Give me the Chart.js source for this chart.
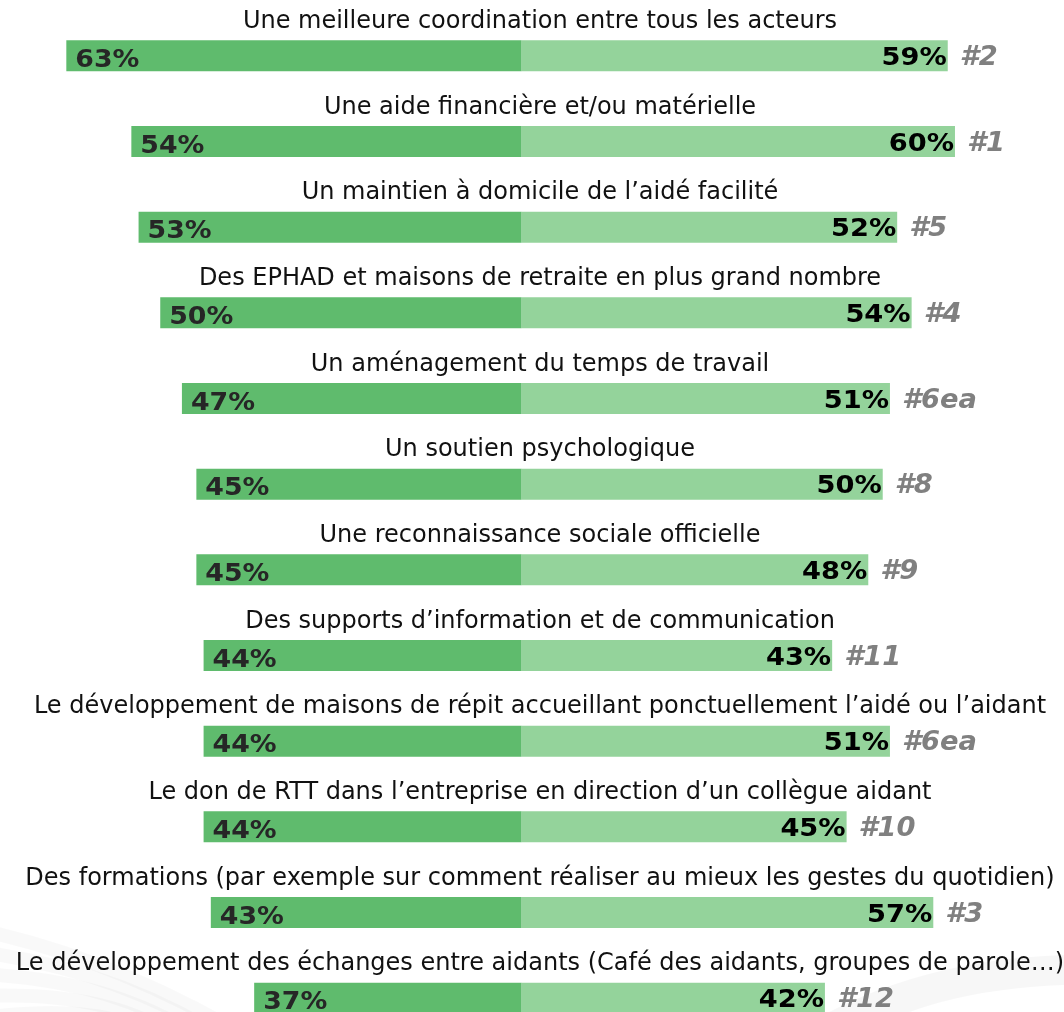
<!DOCTYPE html>
<html lang="fr">
<head>
<meta charset="utf-8">
<title>Aides attendues par les aidants</title>
<script src="https://cdn.jsdelivr.net/npm/chart.js@4/dist/chart.umd.min.js"></script>
<style>
  html, body { margin: 0; padding: 0; background: #ffffff; overflow: hidden; }
  #wrap { position: relative; width: 1064px; height: 1041px; }
</style>
</head>
<body>
<div id="wrap"><canvas id="chart"></canvas></div>
<script>
// Propositions, in display order
const categories = [
  "Une meilleure coordination entre tous les acteurs",
  "Une aide financière et/ou matérielle",
  "Un maintien à domicile de l\u2019aidé facilité",
  "Des EPHAD et maisons de retraite en plus grand nombre",
  "Un aménagement du temps de travail",
  "Un soutien psychologique",
  "Une reconnaissance sociale officielle",
  "Des supports d\u2019information et de communication",
  "Le développement de maisons de répit accueillant ponctuellement l\u2019aidé ou l\u2019aidant",
  "Le don de RTT dans l\u2019entreprise en direction d\u2019un collègue aidant",
  "Des formations (par exemple sur comment réaliser au mieux les gestes du quotidien)",
  "Le développement des échanges entre aidants (Café des aidants, groupes de parole\u2026)"
];

// Left (dark green) and right (light green) shares, in %
const leftValues  = [63, 54, 53, 50, 47, 45, 45, 44, 44, 44, 43, 37];
const rightValues = [59, 60, 52, 54, 51, 50, 48, 43, 51, 45, 57, 42];

// Rank of each proposition
const rankLabels = ["#2", "#1", "#5", "#4", "#6ea", "#8", "#9", "#11", "#6ea", "#10", "#3", "#12"];

const LEFT_COLOR = "#5fbb6d";
const RIGHT_COLOR = "#94d39b";

// Faint decorative swooshes in the lower corners of the slide
const slideBackground = {
  id: "slideBackground",
  beforeDraw(chart) {
    const ctx = chart.ctx;
    ctx.save();
    ctx.fillStyle = "#ffffff";
    ctx.fillRect(0, 0, chart.width, chart.height);
    // lower-left fan of soft strokes
    ctx.lineWidth = 14;
    for (let k = 0; k < 6; k++) {
      ctx.strokeStyle = "rgba(0,0,0,0.025)";
      ctx.beginPath();
      ctx.moveTo(-20, 930 + k * 22);
      ctx.quadraticCurveTo(120, 960 + k * 10, 260 - k * 25, 1045);
      ctx.stroke();
    }
    // lower-right soft band
    ctx.fillStyle = "rgba(0,0,0,0.03)";
    ctx.beginPath();
    ctx.moveTo(780, 1041);
    ctx.quadraticCurveTo(900, 960, 1064, 955);
    ctx.lineTo(1064, 985);
    ctx.quadraticCurveTo(930, 990, 850, 1041);
    ctx.closePath();
    ctx.fill();
    ctx.restore();
  }
};

// Bold labels are drawn slightly widened for a broader face
function wideText(ctx, text, x, y, align, sx) {
  ctx.save();
  ctx.translate(x, y);
  ctx.scale(sx, 1);
  ctx.textAlign = align;
  ctx.fillText(text, 0, 0);
  ctx.restore();
}

// Row titles, value labels and ranks drawn around each bar
const rowLabels = {
  id: "rowLabels",
  afterDatasetsDraw(chart) {
    const ctx = chart.ctx;
    const leftMeta = chart.getDatasetMeta(0);
    const rightMeta = chart.getDatasetMeta(1);
    ctx.save();
    ctx.textBaseline = "alphabetic";
    categories.forEach((cat, i) => {
      const lb = leftMeta.data[i];
      const rb = rightMeta.data[i];
      const cy = lb.y;

      // title above the bar
      ctx.font = "24px 'DejaVu Sans'";
      ctx.fillStyle = "#111111";
      ctx.textAlign = "center";
      ctx.fillText(cat, 540, cy - 28);

      // left value
      ctx.font = "bold 25px 'DejaVu Sans'";
      ctx.fillStyle = "#262626";
      wideText(ctx, leftValues[i] + "%", lb.x + 9, cy + 11, "left", 1.07);

      // right value
      ctx.fillStyle = "#000000";
      wideText(ctx, rightValues[i] + "%", rb.x - 1, cy + 9, "right", 1.09);

      // rank
      ctx.font = "italic bold 26px 'DejaVu Sans'";
      ctx.fillStyle = "#808080";
      wideText(ctx, rankLabels[i], rb.x + 12, cy + 9, "left", 1.05);
    });
    ctx.restore();
  }
};

new Chart(document.getElementById("chart"), {
  type: "bar",
  data: {
    labels: categories,
    datasets: [
      {
        data: leftValues.map(v => -v),
        backgroundColor: LEFT_COLOR,
        borderWidth: 0,
        barThickness: 31,
        inflateAmount: 0
      },
      {
        data: rightValues,
        backgroundColor: RIGHT_COLOR,
        borderWidth: 0,
        barThickness: 31,
        inflateAmount: 0
      }
    ]
  },
  options: {
    indexAxis: "y",
    responsive: true,
    maintainAspectRatio: false,
    animation: false,
    layout: { padding: { top: 13, bottom: 0, left: 0, right: 0 } },
    plugins: {
      legend: { display: false },
      tooltip: { enabled: false }
    },
    scales: {
      x: {
        stacked: true,
        display: false,
        min: -72.18,
        max: 75.09
      },
      y: {
        stacked: true,
        display: false,
        offset: true
      }
    }
  },
  plugins: [slideBackground, rowLabels]
});
</script>
</body>
</html>
